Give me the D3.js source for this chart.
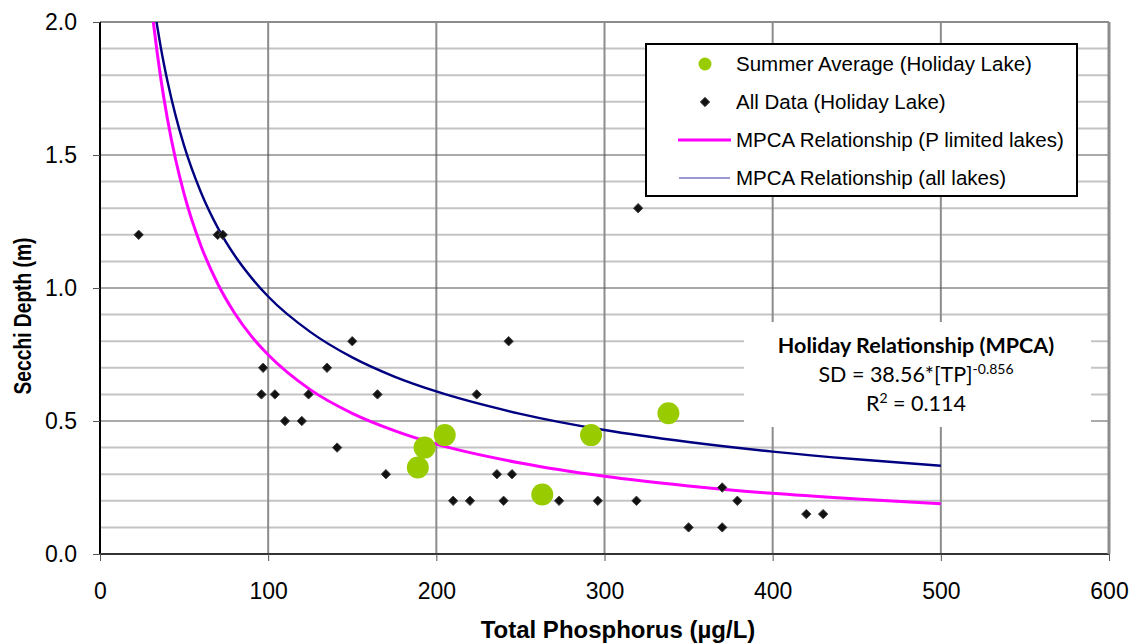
<!DOCTYPE html>
<html>
<head>
<meta charset="utf-8">
<script src="https://cdn.jsdelivr.net/npm/d3@7"></script>
<style>
  html, body { margin: 0; padding: 0; background: #ffffff; }
  svg { display: block; }
</style>
</head>
<body>
<svg id="chart" width="1134" height="644"></svg>
<script>
// ---------------- DATA ----------------
const xTicks = [0, 100, 200, 300, 400, 500, 600];
const yTicks = [0.0, 0.5, 1.0, 1.5, 2.0];
const yMinorTicks = [0.1, 0.2, 0.3, 0.4, 0.6, 0.7, 0.8, 0.9, 1.1, 1.2, 1.3, 1.4, 1.6, 1.7, 1.8, 1.9];

// All Data (Holiday Lake)
const allTP = [23, 70, 73, 97, 96, 104, 110, 120, 124, 135, 141, 150, 165, 170, 210, 220, 224, 236, 240, 243, 245, 273, 296, 320, 319, 350, 370, 370, 379, 420, 430];
const allSD = [1.2, 1.2, 1.2, 0.7, 0.6, 0.6, 0.5, 0.5, 0.6, 0.7, 0.4, 0.8, 0.6, 0.3, 0.2, 0.2, 0.6, 0.3, 0.2, 0.8, 0.3, 0.2, 0.2, 1.3, 0.2, 0.1, 0.25, 0.1, 0.2, 0.15, 0.15];

// Summer Average (Holiday Lake)
const summerTP = [189, 193, 205, 263, 292, 338];
const summerSD = [0.325, 0.40, 0.447, 0.224, 0.447, 0.529];

// MPCA relationship curves
const curveTP = [31, 32, 34, 36, 40, 45, 50, 60, 70, 80, 90, 100, 125, 150, 175, 200, 250, 300, 350, 400, 450, 500];
const pLimitedSD = [2.039, 1.985, 1.885, 1.794, 1.639, 1.482, 1.354, 1.159, 1.016, 0.906, 0.819, 0.749, 0.618, 0.529, 0.464, 0.413, 0.342, 0.292, 0.256, 0.228, 0.207, 0.189];
const allLakesSD = [2.110, 2.066, 1.985, 1.910, 1.781, 1.647, 1.535, 1.360, 1.227, 1.123, 1.039, 0.968, 0.835, 0.739, 0.667, 0.611, 0.527, 0.466, 0.421, 0.385, 0.356, 0.332];

const legendLabels = ["Summer Average (Holiday Lake)", "All Data (Holiday Lake)", "MPCA Relationship (P limited lakes)", "MPCA Relationship (all lakes)"];
const xTitle = "Total Phosphorus (µg/L)";
const yTitle = "Secchi Depth (m)";
const noteTitle = "Holiday Relationship (MPCA)";
const noteEq = "SD = 38.56*[TP]";
const noteExp = "-0.856";
const noteR2 = "0.114";

// ---------------- DRAW ----------------
const svg = d3.select("#chart");
const FONT = "'Liberation Sans', Arial, sans-serif";
const L = 100, R = 1109, T = 22, B = 554;
const x = d3.scaleLinear().domain([0, 600]).range([L, R]);
const y = d3.scaleLinear().domain([0, 2]).range([B, T]);

svg.append("defs").append("clipPath").attr("id", "plotclip")
  .append("rect").attr("x", L).attr("y", T).attr("width", R - L).attr("height", B - T);

const grid = svg.append("g");
grid.selectAll("line.minor").data(yMinorTicks).join("line")
  .attr("x1", L).attr("x2", R)
  .attr("y1", d => y(d)).attr("y2", d => y(d))
  .attr("stroke", "#c4c4c4").attr("stroke-width", 2);
grid.selectAll("line.vx").data(xTicks.filter(d => d > 0)).join("line")
  .attr("x1", d => x(d)).attr("x2", d => x(d))
  .attr("y1", T).attr("y2", B)
  .attr("stroke", "#8c8c8c").attr("stroke-width", 2);
grid.selectAll("line.major").data(yTicks.filter(d => d > 0 && d < 2)).join("line")
  .attr("x1", L).attr("x2", R)
  .attr("y1", d => y(d)).attr("y2", d => y(d))
  .attr("stroke", "#555").attr("stroke-width", 1);
grid.append("line").attr("x1", L).attr("x2", R).attr("y1", y(2)).attr("y2", y(2))
  .attr("stroke", "#8c8c8c").attr("stroke-width", 2);

// annotation white box
const note = svg.append("g");
note.append("rect").attr("x", 744).attr("y", 322).attr("width", 347).attr("height", 105).attr("fill", "#fff");

// curves
const line = d3.line().x(d => x(d[0])).y(d => y(d[1])).curve(d3.curveMonotoneX);
const curves = svg.append("g").attr("clip-path", "url(#plotclip)");
curves.append("path").datum(curveTP.map((t, i) => [t, allLakesSD[i]]))
  .attr("d", line).attr("fill", "none").attr("stroke", "#000080").attr("stroke-width", 2.4);
curves.append("path").datum(curveTP.map((t, i) => [t, pLimitedSD[i]]))
  .attr("d", line).attr("fill", "none").attr("stroke", "#ff00ff").attr("stroke-width", 3);

// summer average points
svg.append("g").selectAll("circle").data(summerTP.map((t, i) => [t, summerSD[i]])).join("circle")
  .attr("cx", d => x(d[0])).attr("cy", d => y(d[1])).attr("r", 11)
  .attr("fill", "#99cc00");

// all data diamonds
const dia = s => `M0,${-s}L${s},0L0,${s}L${-s},0Z`;
svg.append("g").selectAll("path").data(allTP.map((t, i) => [t, allSD[i]])).join("path")
  .attr("transform", d => `translate(${x(d[0])},${y(d[1])})`)
  .attr("d", dia(4.7)).attr("fill", "#111").attr("stroke", "#444").attr("stroke-width", 1);

// axes
const yAxis = svg.append("g").attr("transform", `translate(${L},0)`)
  .call(d3.axisLeft(y).tickValues(yTicks).tickFormat(d3.format(".1f")).tickSize(7).tickPadding(16));
yAxis.select(".domain").attr("stroke", "#000").attr("stroke-width", 2).attr("d", `M0,${T}V${B}`);
yAxis.selectAll(".tick line").attr("stroke", "#555");
yAxis.selectAll("text").attr("font-family", FONT).attr("font-size", 23).attr("fill", "#000");

const xAxis = svg.append("g").attr("transform", `translate(0,${B})`)
  .call(d3.axisBottom(x).tickValues(xTicks).tickFormat(d3.format("d")).tickSize(7).tickPadding(22));
xAxis.select(".domain").attr("stroke", "#333").attr("stroke-width", 2).attr("d", `M${L},0H${R}`);
xAxis.selectAll(".tick line").attr("stroke", "#555");
xAxis.selectAll("text").attr("font-family", FONT).attr("font-size", 23).attr("fill", "#000");

// right border
svg.append("line").attr("x1", R).attr("x2", R).attr("y1", T).attr("y2", B)
  .attr("stroke", "#8c8c8c").attr("stroke-width", 3);

// axis titles
svg.append("text").attr("x", 618).attr("y", 638).attr("text-anchor", "middle")
  .attr("font-family", FONT).attr("font-weight", "bold").attr("font-size", 24).text(xTitle);
svg.append("text").attr("transform", "translate(31,316) rotate(-90)").attr("text-anchor", "middle")
  .attr("font-family", FONT).attr("font-weight", "bold").attr("font-size", 23)
  .attr("textLength", 157).attr("lengthAdjust", "spacingAndGlyphs").text(yTitle);

// annotation text
const NFONT = "Lato, 'Open Sans', sans-serif";
note.append("text").attr("x", 916).attr("y", 353).attr("text-anchor", "middle")
  .attr("font-family", NFONT).attr("font-weight", "bold").attr("font-size", 21.5).text(noteTitle);
const eq = note.append("text").attr("x", 916).attr("y", 382).attr("text-anchor", "middle")
  .attr("font-family", NFONT).attr("font-size", 21.5);
eq.append("tspan").text(noteEq);
eq.append("tspan").attr("dy", -8).attr("font-size", 14).text(noteExp);
const r2 = note.append("text").attr("x", 916).attr("y", 411).attr("text-anchor", "middle")
  .attr("font-family", NFONT).attr("font-size", 21.5);
r2.append("tspan").text("R");
r2.append("tspan").attr("dy", -8).attr("font-size", 14).text("2");
r2.append("tspan").attr("dy", 8).text(" = " + noteR2);

// legend
const lg = svg.append("g");
lg.append("rect").attr("x", 646).attr("y", 44).attr("width", 431).attr("height", 152)
  .attr("fill", "#fff").attr("stroke", "#000").attr("stroke-width", 2);
const rowY = [64, 102, 140, 178];
lg.selectAll("text").data(legendLabels).join("text")
  .attr("x", 736).attr("y", (d, i) => rowY[i]).attr("dy", "0.36em")
  .attr("font-family", FONT).attr("font-size", 20.5).attr("fill", "#000").text(d => d);
lg.append("circle").attr("cx", 705).attr("cy", rowY[0]).attr("r", 6.5).attr("fill", "#99cc00");
lg.append("path").attr("transform", `translate(705,${rowY[1]})`).attr("d", dia(4.7))
  .attr("fill", "#111").attr("stroke", "#444").attr("stroke-width", 1);
lg.append("line").attr("x1", 678).attr("x2", 731).attr("y1", rowY[2]).attr("y2", rowY[2])
  .attr("stroke", "#ff00ff").attr("stroke-width", 3);
lg.append("line").attr("x1", 679).attr("x2", 730).attr("y1", rowY[3]).attr("y2", rowY[3])
  .attr("stroke", "#3333aa").attr("stroke-width", 1);
</script>
</body>
</html>
